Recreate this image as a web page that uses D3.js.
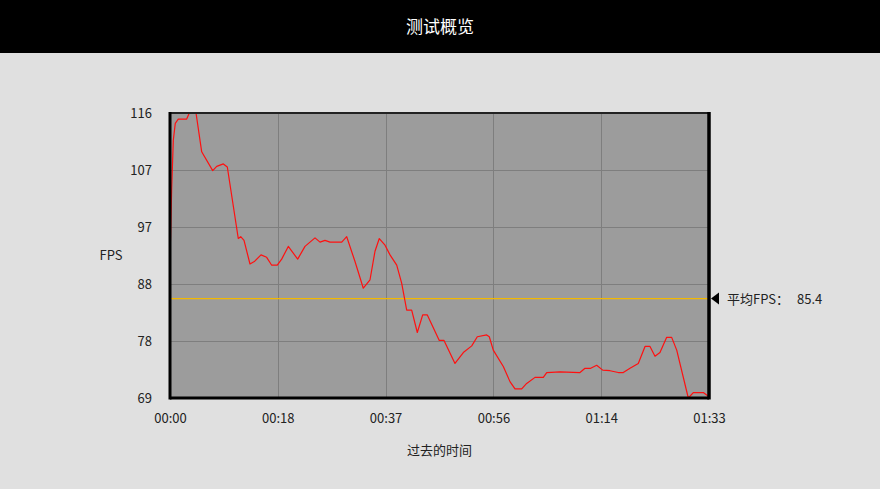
<!DOCTYPE html>
<html><head><meta charset="utf-8">
<script src="https://cdn.jsdelivr.net/npm/d3@7/dist/d3.min.js"></script>
<style>
html,body{margin:0;padding:0;background:#dddddd;}
svg{display:block;}
</style></head>
<body>
<svg id="chart" width="880" height="489"></svg>
<script>
// ---- data ----
const title = "测试概览";
const yLabel = "FPS";
const xLabel = "过去的时间";
const avgLabel = "平均FPS：";
const avgFps = 85.4;
const yDomain = [69, 116];
const xDomain = [0, 93]; // seconds
const xTickLabels = ["00:00", "00:18", "00:37", "00:56", "01:14", "01:33"];
const yTickLabels = ["69", "78", "88", "97", "107", "116"];
const times = [0,0.1,0.29,0.57,0.91,1.43,2.88,3.33,4.49,5.47,7.37,8.06,9.2,9.89,11.78,12.2,12.77,13.8,14.55,15.7,16.68,17.55,18.51,19.27,20.41,22.03,23.29,25.02,25.88,26.74,27.61,29.63,30.49,31.92,33.35,34.51,35.37,36.11,37.1,37.96,39.12,39.98,40.84,41.7,42.67,43.6,44.4,46.46,47.28,49.17,50.61,52.06,53.02,54.64,55.09,55.78,57.51,58.66,59.53,60.68,61.54,62.98,64.41,65,67.29,70.74,71.61,72.59,73.62,74.66,75.92,77.35,78.21,79.37,80.8,81.96,82.82,83.68,84.54,85.7,86.56,87.43,89.43,90.29,92.02,93];
const fps = [93,95.5,103.6,111.5,114.3,115,115,116,116,109.6,106.5,107.2,107.6,107.1,95.3,95.6,95,91.1,91.5,92.6,92.2,90.9,90.9,91.9,94,91.9,94,95.4,94.7,95,94.7,94.7,95.6,91.5,87.1,88.5,93.2,95.3,94.2,92.6,90.9,87.9,83.5,83.5,79.8,82.7,82.7,78.5,78.5,74.7,76.5,77.6,79.1,79.4,79.1,76.9,74.2,71.7,70.5,70.5,71.4,72.4,72.4,73.2,73.3,73.2,73.9,73.9,74.4,73.6,73.5,73.2,73.2,73.9,74.7,77.5,77.5,75.9,76.5,79,79,76.9,69,69.9,69.9,69.2];

// ---- layout ----
const W = 880, H = 489;
const plot = {left: 170, right: 709, top: 113, bottom: 398};
const svg = d3.select("#chart");
const font = "'Noto Sans CJK SC','Noto Sans',sans-serif";

svg.append("rect").attr("width", W).attr("height", H).attr("fill", "#e0e0e0");
svg.append("rect").attr("width", W).attr("height", 53).attr("fill", "#000");
svg.append("text").attr("x", W/2).attr("y", 33).attr("text-anchor", "middle")
  .attr("fill", "#fff").attr("font-family", font).attr("font-size", 17).text(title);

const x = d3.scaleLinear().domain(xDomain).range([plot.left, plot.right]);
const y = d3.scaleLinear().domain(yDomain).range([plot.bottom, plot.top]);

svg.append("rect").attr("x", plot.left).attr("y", plot.top)
  .attr("width", plot.right - plot.left).attr("height", plot.bottom - plot.top)
  .attr("fill", "#9c9c9c");

const xTickVals = d3.range(6).map(i => xDomain[0] + i * (xDomain[1] - xDomain[0]) / 5);
const yTickVals = d3.range(6).map(i => yDomain[0] + i * (yDomain[1] - yDomain[0]) / 5);

// grid
const grid = svg.append("g").attr("stroke", "#7e7e7e").attr("stroke-width", 1);
xTickVals.slice(1, -1).forEach(v => grid.append("line")
  .attr("x1", Math.round(x(v)) + 0.5).attr("x2", Math.round(x(v)) + 0.5)
  .attr("y1", plot.top).attr("y2", plot.bottom));
yTickVals.slice(1, -1).forEach(v => grid.append("line")
  .attr("x1", plot.left).attr("x2", plot.right)
  .attr("y1", Math.round(y(v)) + 0.5).attr("y2", Math.round(y(v)) + 0.5));

// axes (labels only)
const xAxis = d3.axisBottom(x).tickValues(xTickVals).tickSize(0).tickPadding(16)
  .tickFormat((d, i) => xTickLabels[i]);
const gx = svg.append("g").attr("transform", `translate(0,${plot.bottom})`).call(xAxis);
gx.select(".domain").remove();
gx.selectAll("text").attr("font-family", font).attr("font-size", 13).attr("fill", "#222");

const yAxis = d3.axisLeft(y).tickValues(yTickVals).tickSize(0).tickPadding(18)
  .tickFormat((d, i) => yTickLabels[i]);
const gy = svg.append("g").attr("transform", `translate(${plot.left},0)`).call(yAxis);
gy.select(".domain").remove();
gy.selectAll("text").attr("font-family", font).attr("font-size", 13).attr("fill", "#222");

// average line
svg.append("line").attr("x1", plot.left).attr("x2", plot.right)
  .attr("y1", y(avgFps)).attr("y2", y(avgFps))
  .attr("stroke", "#f2b800").attr("stroke-width", 1.3);

// fps line
const data = times.map((t, i) => [t, fps[i]]);
svg.append("path").datum(data)
  .attr("d", d3.line().x(d => x(d[0])).y(d => y(d[1])))
  .attr("fill", "none").attr("stroke", "#ff1010").attr("stroke-width", 1.2)
  .attr("stroke-linejoin", "round");

// borders
svg.append("line").attr("x1", plot.left).attr("x2", plot.right).attr("y1", plot.top).attr("y2", plot.top)
  .attr("stroke", "#222").attr("stroke-width", 2);
svg.append("line").attr("x1", plot.left).attr("x2", plot.left).attr("y1", plot.top - 1).attr("y2", plot.bottom + 1.5)
  .attr("stroke", "#000").attr("stroke-width", 3);
svg.append("line").attr("x1", plot.right).attr("x2", plot.right).attr("y1", plot.top - 1).attr("y2", plot.bottom + 1.5)
  .attr("stroke", "#000").attr("stroke-width", 3.5);
svg.append("line").attr("x1", plot.left).attr("x2", plot.right).attr("y1", plot.bottom).attr("y2", plot.bottom)
  .attr("stroke", "#000").attr("stroke-width", 3);

// average marker + label
const ay = y(avgFps);
svg.append("path").attr("d", `M${plot.right + 2},${ay} L${plot.right + 10},${ay - 6} L${plot.right + 10},${ay + 6} Z`)
  .attr("fill", "#000");
svg.append("text").attr("x", plot.right + 18).attr("y", ay + 5).attr("font-family", font)
  .attr("font-size", 13).attr("fill", "#222").text(avgLabel);
svg.append("text").attr("x", plot.right + 88).attr("y", ay + 5).attr("font-family", font)
  .attr("font-size", 13).attr("fill", "#222").text(avgFps.toFixed(1));

// axis titles
svg.append("text").attr("x", 111).attr("y", y((yDomain[0] + yDomain[1]) / 2) + 4)
  .attr("text-anchor", "middle").attr("font-family", font).attr("font-size", 13).attr("fill", "#222").text(yLabel);
svg.append("text").attr("x", (plot.left + plot.right) / 2).attr("y", 455)
  .attr("text-anchor", "middle").attr("font-family", font).attr("font-size", 13).attr("fill", "#222").text(xLabel);
</script>
</body></html>
